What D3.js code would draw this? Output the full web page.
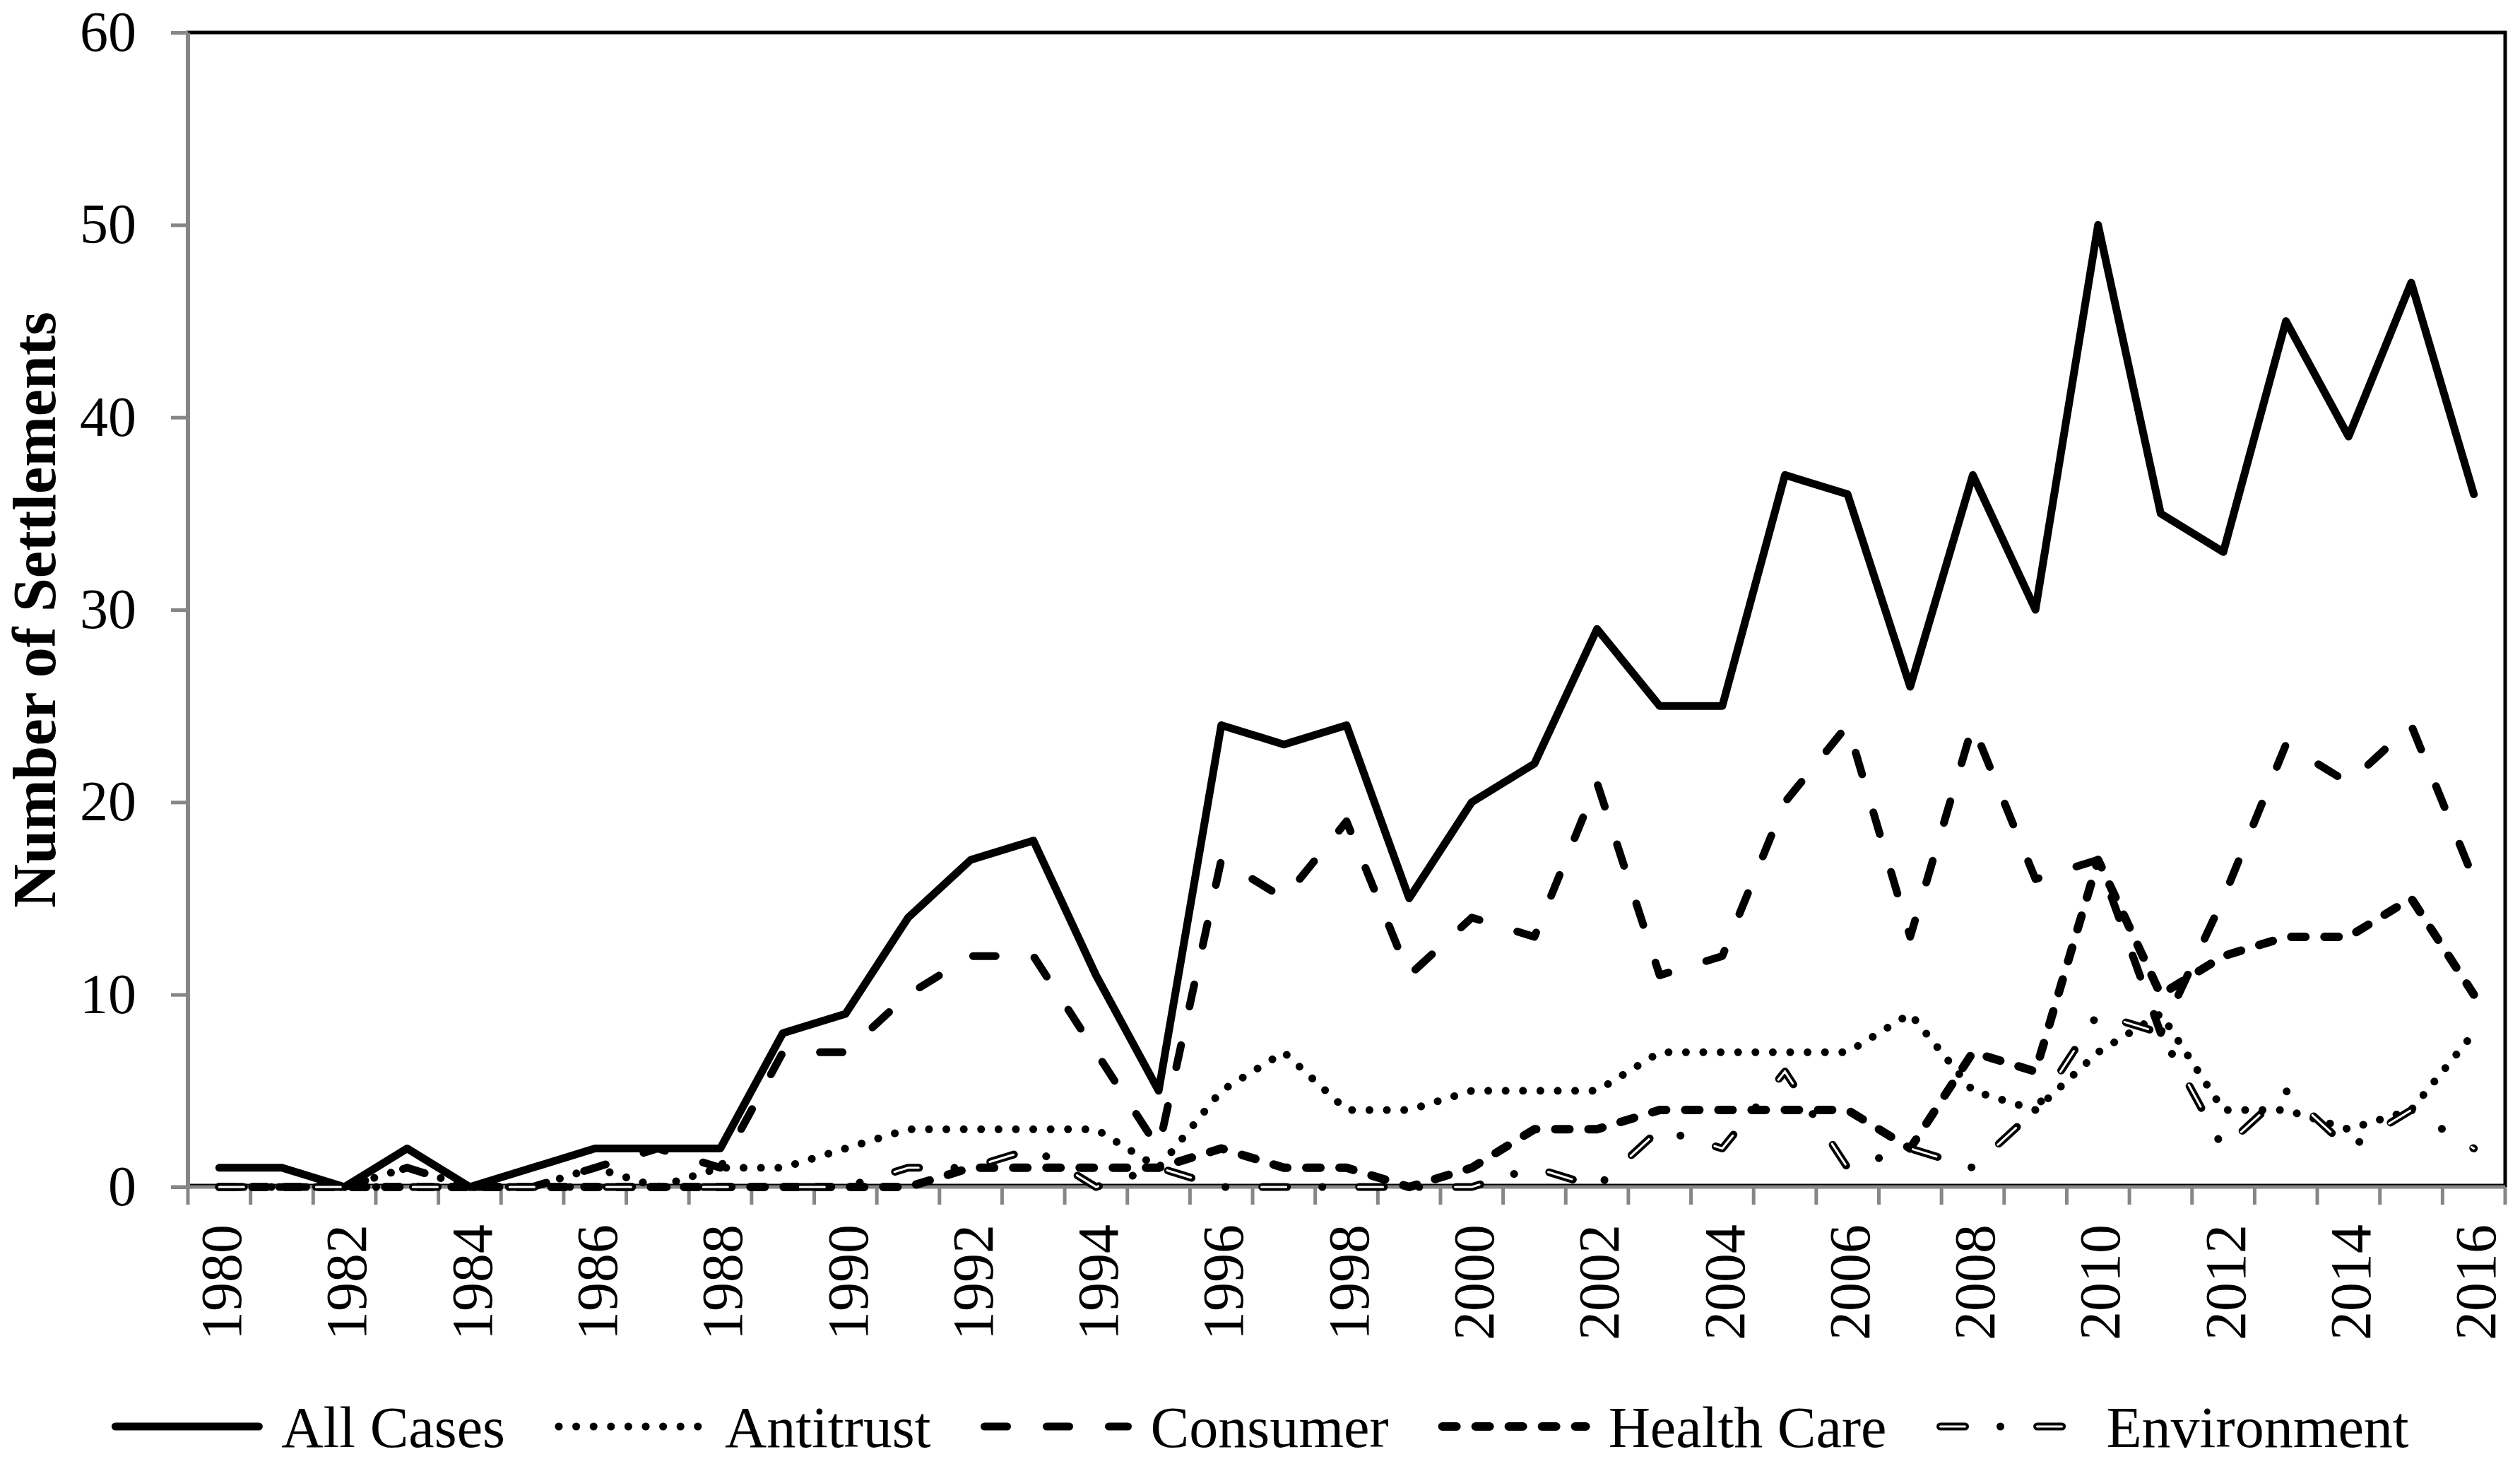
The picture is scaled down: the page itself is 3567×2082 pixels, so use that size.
<!DOCTYPE html>
<html>
<head>
<meta charset="utf-8">
<script src="https://cdn.jsdelivr.net/npm/d3@7"></script>
<style>
  body { margin: 0; background: #fff; }
  text { font-family: "Liberation Serif", "Times New Roman", serif; fill: #000; }
</style>
</head>
<body>
<div id="chart"></div>
<script>
// Data
const years = [1980, 1981, 1982, 1983, 1984, 1985, 1986, 1987, 1988, 1989,
               1990, 1991, 1992, 1993, 1994, 1995, 1996, 1997, 1998, 1999,
               2000, 2001, 2002, 2003, 2004, 2005, 2006, 2007, 2008, 2009,
               2010, 2011, 2012, 2013, 2014, 2015, 2016];
const seriesNames = ["All Cases", "Antitrust", "Consumer", "Health Care", "Environment"];
const allCases    = [1, 1, 0, 2, 0, 1, 2, 2, 2, 8, 9, 14, 17, 18, 11, 5, 24, 23, 24, 15,
                     20, 22, 29, 25, 25, 37, 36, 26, 37, 30, 50, 35, 33, 45, 39, 47, 36];
const antitrust   = [0, 0, 0, 1, 0, 0, 1, 0, 1, 1, 2, 3, 3, 3, 3, 1, 5, 7, 4, 4,
                     5, 5, 5, 7, 7, 7, 7, 9, 5, 4, 7, 9, 4, 4, 3, 4, 8];
const consumer    = [0, 0, 0, 1, 0, 0, 1, 2, 1, 7, 7, 10, 12, 12, 7, 2, 17, 15, 19, 11,
                     14, 13, 21, 11, 12, 20, 24, 13, 24, 16, 17, 8, 15, 23, 21, 24, 16];
const healthCare  = [0, 0, 0, 0, 0, 0, 0, 0, 0, 0, 0, 0, 1, 1, 1, 1, 2, 1, 1, 0,
                     1, 3, 3, 4, 4, 4, 4, 2, 7, 6, 17, 10, 12, 13, 13, 15, 10];
const environment = [0, 0, 0, 0, 0, 0, 0, 0, 0, 0, 0, 1, 1, 2, 0, 1, 0, 0, 0, 0,
                     0, 1, 0, 3, 2, 6, 1, 2, 1, 4, 9, 8, 2, 5, 2, 4, 2];
const yTicks = [0, 10, 20, 30, 40, 50, 60];
const xTickLabels = [1980, 1982, 1984, 1986, 1988, 1990, 1992, 1994, 1996, 1998,
                     2000, 2002, 2004, 2006, 2008, 2010, 2012, 2014, 2016];

const seriesValues = [allCases, antitrust, consumer, healthCare, environment];

// Canvas and plot area
let width = 3567, height = 2082;
let plot = {left: 266, right: 3546, top: 46, bottom: 1680};
let fontSize = 80;
let axisGray = "#868686";

let svg = d3.select("#chart")
    .append("svg")
    .attr("width", width)
    .attr("height", height);

svg.append("rect")
    .attr("width", width).attr("height", height)
    .attr("fill", "#fff");

// Scales
const x = d3.scaleBand()
    .domain(years)
    .range([plot.left, plot.right]);
const xc = d => x(d) + x.bandwidth() / 2;

const y = d3.scaleLinear()
    .domain([0, 60])
    .range([plot.bottom, plot.top]);

// Plot area border (black)
svg.append("rect")
    .attr("x", plot.left)
    .attr("y", plot.top)
    .attr("width", plot.right - plot.left)
    .attr("height", plot.bottom - 2 - plot.top)
    .attr("fill", "none")
    .attr("stroke", "#000")
    .attr("stroke-width", 5);

// Y axis
let yAxis = svg.append("g")
    .attr("transform", `translate(${plot.left}, 0)`)
    .call(d3.axisLeft(y).tickValues(yTicks).tickSize(24).tickPadding(49).tickSizeOuter(0));
yAxis.select(".domain").attr("stroke", axisGray).attr("stroke-width", 5);
yAxis.selectAll(".tick line").attr("stroke", axisGray).attr("stroke-width", 5);
yAxis.selectAll(".tick text")
    .style("font-family", "'Liberation Serif', 'Times New Roman', serif")
    .style("font-size", fontSize + "px")
    .attr("fill", "#000");

// X axis line and ticks at category boundaries
let xAxis = svg.append("g");
xAxis.append("line")
    .attr("x1", plot.left - 24).attr("x2", plot.right)
    .attr("y1", plot.bottom).attr("y2", plot.bottom)
    .attr("stroke", axisGray).attr("stroke-width", 5);

const boundaries = years.map(d => x(d)).concat([x(years[years.length - 1]) + x.bandwidth()]);
xAxis.selectAll(".xtick")
    .data(boundaries)
    .enter()
    .append("line")
    .attr("class", "xtick")
    .attr("x1", d => d).attr("x2", d => d)
    .attr("y1", plot.bottom).attr("y2", plot.bottom + 25)
    .attr("stroke", axisGray).attr("stroke-width", 5);

xAxis.selectAll(".xlabel")
    .data(xTickLabels)
    .enter()
    .append("text")
    .attr("class", "xlabel")
    .attr("transform", d => `translate(${xc(d) + 2}, ${plot.bottom + 53}) rotate(-90)`)
    .attr("text-anchor", "end")
    .attr("dy", "0.35em")
    .style("font-size", "82px")
    .text(d => d);

// Y axis title
svg.append("text")
    .attr("transform", `translate(78, ${(plot.top + plot.bottom) / 2}) rotate(-90)`)
    .attr("text-anchor", "middle")
    .style("font-size", "86px")
    .style("font-weight", "bold")
    .text("Number of Settlements");

// Line styles
const styles = {
    "All Cases":   {w: 11, dash: null},
    "Antitrust":   {w: 11, dash: "0.1 24.5"},
    "Consumer":    {w: 11, dash: "32 56"},
    "Health Care": {w: 12, dash: "20 27"},
    "Environment": {w: 11, dash: "35 50 0.1 52", hollow: "35 102"}
};

function strokeIt(sel, st) {
    sel.attr("fill", "none")
        .attr("stroke", "#000")
        .attr("stroke-width", st.w)
        .attr("stroke-linecap", "round")
        .attr("stroke-linejoin", "round");
    if (st.dash) sel.attr("stroke-dasharray", st.dash);
    return sel;
}
function hollowIt(sel, st) {
    sel.attr("fill", "none")
        .attr("stroke", "#fff")
        .attr("stroke-width", 3)
        .attr("stroke-linecap", "round")
        .attr("stroke-dasharray", st.hollow);
    return sel;
}

const line = d3.line()
    .x((d, i) => xc(years[i]))
    .y(d => y(d));

let lines = svg.append("g");
seriesNames.forEach((name, k) => {
    const st = styles[name];
    strokeIt(lines.append("path").attr("d", line(seriesValues[k])), st);
    if (st.hollow) hollowIt(lines.append("path").attr("d", line(seriesValues[k])), st);
});

// Legend, centred under the chart
let legend = svg.append("g");
let legendY = 2019, sampleLen = 215, textGap = 26, itemGap = 70;
let items = seriesNames.map(name => {
    let g = legend.append("g");
    let t = g.append("text")
        .attr("x", sampleLen + textGap)
        .attr("y", 0)
        .attr("dy", "0.35em")
        .style("font-size", "82px")
        .text(name);
    return {name, g, w: t.node().getComputedTextLength()};
});
let total = d3.sum(items, d => sampleLen + textGap + d.w) + itemGap * (items.length - 1);
let cursor = width / 2 - total / 2;
items.forEach(it => {
    it.g.attr("transform", `translate(${cursor}, ${legendY})`);
    const st = styles[it.name];
    strokeIt(it.g.append("line").attr("x1", 6).attr("x2", sampleLen - 6).attr("y1", 0).attr("y2", 0), st);
    if (st.hollow) hollowIt(it.g.append("line").attr("x1", 6).attr("x2", sampleLen - 6).attr("y1", 0).attr("y2", 0), st);
    cursor += sampleLen + textGap + it.w + itemGap;
});
</script>
</body>
</html>
